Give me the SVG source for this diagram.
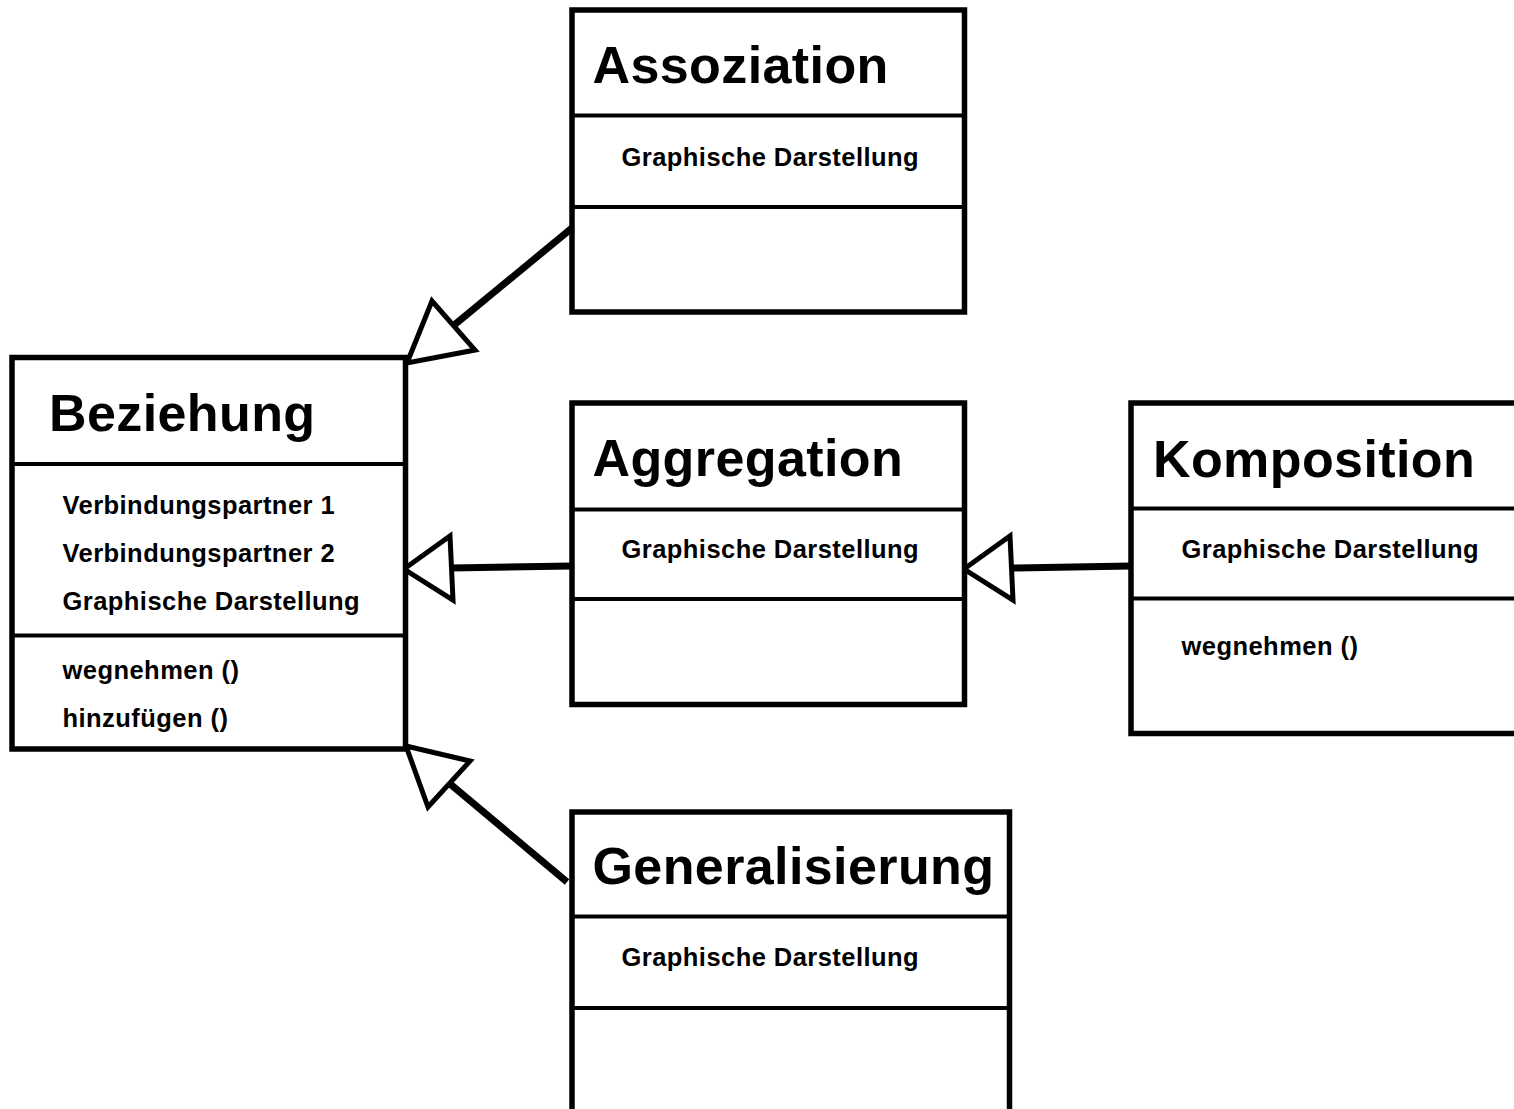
<svg xmlns="http://www.w3.org/2000/svg" width="1514" height="1109" viewBox="0 0 1514 1109">
<style>
.box{fill:#fff;stroke:#000;stroke-width:5.5}
.div{stroke:#000;stroke-width:4}
.title{font-family:"Liberation Sans",Arial,sans-serif;font-weight:bold;font-size:52px;letter-spacing:0.4px;fill:#000}
.attr{font-family:"Liberation Sans",Arial,sans-serif;font-weight:bold;font-size:25.5px;letter-spacing:0.45px;fill:#000}
.conn{stroke:#000;stroke-width:7;fill:none}
.head{fill:#fff;stroke:#000;stroke-width:5;stroke-linejoin:miter}
</style>
<rect width="1514" height="1109" fill="#fff"/>
<g id="connectors">
<line class="conn" x1="572" y1="228" x2="453" y2="326"/>
<polygon class="head" points="407,363 432,301 475,350"/>
<line class="conn" x1="572" y1="566" x2="451" y2="568"/>
<polygon class="head" points="404,569 450,536 453,600"/>
<line class="conn" x1="567" y1="882" x2="449" y2="783"/>
<polygon class="head" points="406,746 470,761 428,807"/>
<line class="conn" x1="1131" y1="566" x2="1011" y2="568"/>
<polygon class="head" points="964,569 1010,536 1013,600"/>
</g>
<g id="beziehung">
<rect class="box" x="12" y="357.5" width="393.5" height="391.5"/>
<line class="div" x1="12" y1="464" x2="405.5" y2="464"/>
<line class="div" x1="12" y1="635.5" x2="405.5" y2="635.5"/>
<text class="title" x="49" y="430.5">Beziehung</text>
<text class="attr" x="62.5" y="514">Verbindungspartner 1</text>
<text class="attr" x="62.5" y="562">Verbindungspartner 2</text>
<text class="attr" x="62.5" y="610">Graphische Darstellung</text>
<text class="attr" x="62.5" y="679">wegnehmen ()</text>
<text class="attr" x="62.5" y="727">hinzufügen ()</text>
</g>
<g id="assoziation">
<rect class="box" x="572" y="10" width="392.5" height="302"/>
<line class="div" x1="572" y1="115.5" x2="964.5" y2="115.5"/>
<line class="div" x1="572" y1="207" x2="964.5" y2="207"/>
<text class="title" x="592.5" y="82.5">Assoziation</text>
<text class="attr" x="621.5" y="165.5">Graphische Darstellung</text>
</g>
<g id="aggregation">
<rect class="box" x="572" y="403" width="392.5" height="301.5"/>
<line class="div" x1="572" y1="509.5" x2="964.5" y2="509.5"/>
<line class="div" x1="572" y1="599" x2="964.5" y2="599"/>
<text class="title" x="592.5" y="476">Aggregation</text>
<text class="attr" x="621.5" y="558">Graphische Darstellung</text>
</g>
<g id="komposition">
<rect class="box" x="1131" y="403" width="400" height="330.5"/>
<line class="div" x1="1131" y1="508.5" x2="1531" y2="508.5"/>
<line class="div" x1="1131" y1="598.5" x2="1531" y2="598.5"/>
<text class="title" x="1153" y="476.5">Komposition</text>
<text class="attr" x="1181.5" y="558">Graphische Darstellung</text>
<text class="attr" x="1181.5" y="655">wegnehmen ()</text>
</g>
<g id="generalisierung">
<rect class="box" x="572" y="812" width="437.5" height="320"/>
<line class="div" x1="572" y1="916.5" x2="1009.5" y2="916.5"/>
<line class="div" x1="572" y1="1008" x2="1009.5" y2="1008"/>
<text class="title" x="592.5" y="883.5">Generalisierung</text>
<text class="attr" x="621.5" y="966">Graphische Darstellung</text>
</g>
</svg>
